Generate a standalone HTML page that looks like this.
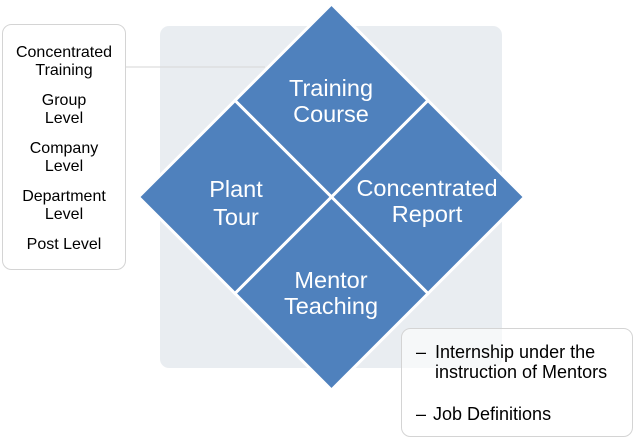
<!DOCTYPE html>
<html><head><meta charset="utf-8"><style>
html,body{margin:0;padding:0;background:#fff;}
svg{display:block;font-family:"Liberation Sans",Arial,sans-serif;}
</style></head><body>
<svg width="635" height="439" viewBox="0 0 635 439" xmlns="http://www.w3.org/2000/svg">
<rect x="160" y="26" width="342" height="342" rx="9" fill="#e9edf1"/>
<line x1="126" y1="67" x2="265" y2="67" stroke="#d6d6d6" stroke-width="1"/>
<rect x="2.5" y="24.5" width="123" height="245" rx="9" fill="#fff" stroke="#d4d4d4"/>
<g font-size="16" fill="#000" text-anchor="middle">
<text x="64" y="57">Concentrated</text><text x="64" y="75">Training</text>
<text x="64" y="105">Group</text><text x="64" y="123">Level</text>
<text x="64" y="153">Company</text><text x="64" y="171">Level</text>
<text x="64" y="201">Department</text><text x="64" y="219">Level</text>
<text x="64" y="249">Post Level</text>
</g>
<g fill="#4f81bd" stroke="#fff" stroke-width="3" stroke-linejoin="miter">
<polygon points="331.5,4 428,100.5 331.5,197 235,100.5"/>
<polygon points="235,100.5 331.5,197 235,293.5 138.5,197"/>
<polygon points="428,100.5 524.5,197 428,293.5 331.5,197"/>
<polygon points="331.5,197 428,293.5 331.5,390 235,293.5"/>
</g>
<g font-size="23.5" fill="#fff" text-anchor="middle">
<text x="331" y="96">Training</text><text x="331" y="122">Course</text>
<text x="236" y="197">Plant</text><text x="236" y="225">Tour</text>
<text x="427" y="196">Concentrated</text><text x="427" y="222">Report</text>
<text x="331" y="288">Mentor</text><text x="331" y="314">Teaching</text>
</g>
<rect x="401.5" y="328.5" width="231" height="108" rx="9" fill="#fff" fill-opacity="0.6" stroke="#d4d4d4"/>
<g font-size="18" fill="#000">
<text x="416" y="358">–</text><text x="435" y="358">Internship under the</text>
<text x="435" y="378">instruction of Mentors</text>
<text x="416" y="420">–</text><text x="433" y="420">Job Definitions</text>
</g>
</svg>
</body></html>
